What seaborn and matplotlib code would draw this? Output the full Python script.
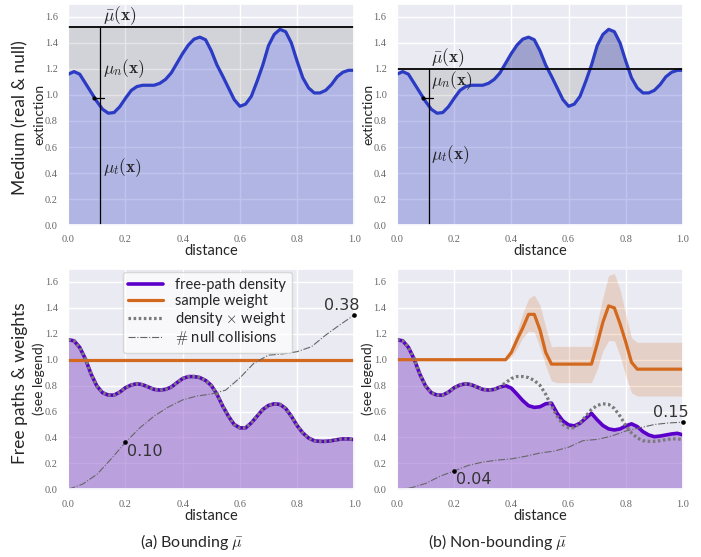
import numpy as np
import matplotlib
matplotlib.use("Agg")
import matplotlib.pyplot as plt
import seaborn as sns
from matplotlib.lines import Line2D

sns.set_theme(style="darkgrid")
plt.rcParams["font.family"] = ["Lato", "DejaVu Sans"]
plt.rcParams["mathtext.fontset"] = "cm"

# distance grid (0.02 steps) for the medium / density curves
dist = np.round(np.arange(51) * 0.02, 2)

# extinction mu_t(x), same medium in both columns
mu_t = [1.16, 1.18, 1.16, 1.09, 1.02, 0.95, 0.89, 0.86, 0.865, 0.91,
        0.975, 1.035, 1.065, 1.075, 1.075, 1.075, 1.09, 1.12, 1.17, 1.245,
        1.32, 1.385, 1.43, 1.445, 1.425, 1.34, 1.23, 1.145, 1.055, 0.965,
        0.913, 0.93, 0.99, 1.105, 1.23, 1.38, 1.466, 1.505, 1.487, 1.40,
        1.26, 1.132, 1.055, 1.016, 1.016, 1.036, 1.08, 1.14, 1.175, 1.19,
        1.19]
mu_bar_bound = 1.52
mu_bar_nonbound = 1.2
probe_x = 0.112
probe_tick = (0.091, 0.126, 0.977)

# true free-path density (= density x weight in both cases)
dens_true = [1.154, 1.146, 1.095, 1.005, 0.888, 0.797, 0.745, 0.727, 0.727, 0.75,
             0.784, 0.805, 0.815, 0.807, 0.789, 0.771, 0.766, 0.771, 0.789, 0.823,
             0.855, 0.87, 0.87, 0.862, 0.84, 0.802, 0.733, 0.642, 0.564, 0.50,
             0.474, 0.474, 0.513, 0.564, 0.616, 0.647, 0.66, 0.655, 0.624, 0.564,
             0.492, 0.435, 0.396, 0.375, 0.37, 0.37, 0.375, 0.383, 0.389, 0.389,
             0.383]

# free-path density with the non-bounding majorant
dens_nb = [1.154, 1.146, 1.095, 1.005, 0.888, 0.797, 0.745, 0.727, 0.727, 0.75,
           0.784, 0.805, 0.815, 0.807, 0.789, 0.771, 0.766, 0.771, 0.789, 0.80,
           0.78, 0.733, 0.684, 0.645, 0.632, 0.637, 0.66, 0.665, 0.586, 0.528,
           0.497, 0.489, 0.51, 0.549, 0.586, 0.536, 0.492, 0.466, 0.458, 0.466,
           0.489, 0.505, 0.484, 0.445, 0.419, 0.406, 0.411, 0.419, 0.427, 0.432,
           0.42]

# sample weight (non-bounding) and its spread
weight_nb = [1.0] * 20 + [1.057, 1.156, 1.246, 1.35, 1.35, 1.23, 1.056, 0.966,
                          0.966, 0.966, 0.966, 0.966, 0.966, 0.966, 0.966, 1.122,
                          1.29, 1.415, 1.40, 1.277, 1.135, 0.98, 0.927, 0.927,
                          0.927, 0.927, 0.927, 0.927, 0.927, 0.927, 0.927]
weight_hi = [1.0] * 20 + [1.08, 1.22, 1.36, 1.47, 1.50, 1.42, 1.25, 1.10,
                          1.103, 1.103, 1.103, 1.103, 1.103, 1.103, 1.103, 1.29,
                          1.48, 1.65, 1.665, 1.54, 1.35, 1.17, 1.134, 1.134,
                          1.134, 1.134, 1.134, 1.134, 1.134, 1.134, 1.134]
weight_lo = [1.0] * 20 + [1.02, 1.09, 1.17, 1.22, 1.215, 1.095, 0.953, 0.836,
                          0.823, 0.823, 0.823, 0.823, 0.823, 0.823, 0.823, 0.927,
                          1.07, 1.147, 1.147, 1.03, 0.875, 0.745, 0.72, 0.72,
                          0.72, 0.72, 0.72, 0.72, 0.72, 0.72, 0.72]

# number of null collisions (scaled), coarser grid
dist_c = np.round(np.arange(21) * 0.05, 2)
null_bound = [0.0, 0.04, 0.115, 0.235, 0.362, 0.474, 0.565, 0.635, 0.69, 0.72,
              0.735, 0.765, 0.86, 0.975, 1.035, 1.045, 1.062, 1.10, 1.19, 1.27,
              1.345]
null_nonbound = [0.0, 0.012, 0.045, 0.10, 0.142, 0.185, 0.21, 0.225, 0.235, 0.255,
                 0.28, 0.295, 0.325, 0.375, 0.385, 0.41, 0.45, 0.475, 0.50, 0.512,
                 0.518]
null_marks_bound = {0.2: "0.10", 1.0: "0.38"}
null_marks_nonbound = {0.2: "0.04", 1.0: "0.15"}

ticks = [0.0, 0.2, 0.4, 0.6, 0.8, 1.0]
yticks = [0.0, 0.2, 0.4, 0.6, 0.8, 1.0, 1.2, 1.4, 1.6]

BLUE = "#2b3bc4"
PURPLE = "#5a00c8"
PURPLE_FILL = "#9d6fd1"
ORANGE = "#d2691e"
DOTS = "#7a7a7a"
TICKFONT = dict(fontfamily="Liberation Serif", fontsize=7.5, color="#666666")

fig = plt.figure(figsize=(7.01, 5.57), dpi=100)
W, H = 701, 557


def px_axes(x0, y0, x1, y1):
    return fig.add_axes([x0 / W, 1 - y1 / H, (x1 - x0) / W, (y1 - y0) / H])


ax_tl = px_axes(68.3, 4, 354.3, 225)
ax_tr = px_axes(397, 4, 683, 225)
ax_bl = px_axes(68.3, 269, 354.3, 489.3)
ax_br = px_axes(397, 269, 683, 489.3)


def style(ax, ylabel):
    ax.set_xlim(0, 1)
    ax.set_ylim(0, 1.7)
    ax.set_xticks(ticks, [f"{t:.1f}" for t in ticks], **TICKFONT)
    ax.set_yticks(yticks, [f"{t:.1f}" for t in yticks], **TICKFONT)
    ax.tick_params(pad=1.5)
    ax.set_xlabel("distance", fontsize=10.5, labelpad=0)
    ax.set_ylabel(ylabel, fontsize=10)
    ax.yaxis.set_label_coords(-0.08, 0.5)


def medium(ax, mu_bar, lab_y):
    ax.fill_between(dist, 0, mu_t, color=BLUE, alpha=0.3, lw=0)
    ax.fill_between(dist, mu_t, mu_bar, color="black", alpha=0.1, lw=0)
    sns.lineplot(x=dist, y=mu_t, ax=ax, color=BLUE, lw=2.3)
    ax.axhline(mu_bar, color="black", lw=1.3)
    ax.vlines(probe_x, 0, mu_bar, color="black", lw=0.9)
    ax.plot(probe_tick[:2], [probe_tick[2]] * 2, color="black", lw=0.9)
    ax.plot(probe_tick[0], probe_tick[2], "o", color="black", ms=2)
    for s, yy in zip([r"$\bar{\mu}(\mathbf{x})$", r"$\mu_n(\mathbf{x})$",
                      r"$\mu_t(\mathbf{x})$"], lab_y):
        ax.text(0.12, yy, s, fontsize=12.5, va="center", ha="left")
    style(ax, "extinction")


medium(ax_tl, mu_bar_bound, [1.61, 1.20, 0.44])
medium(ax_tr, mu_bar_nonbound, [1.29, 1.11, 0.54])


def paths(ax, dens, weight, null, marks, band=None, label_pos=None):
    ax.fill_between(dist, 0, dens, color=PURPLE_FILL, alpha=0.6, lw=0)
    if band is not None:
        ax.fill_between(dist, band[0], band[1], color=ORANGE, alpha=0.2, lw=0)
    sns.lineplot(x=dist, y=dens, ax=ax, color=PURPLE, lw=2.6)
    sns.lineplot(x=dist, y=weight, ax=ax, color=ORANGE, lw=2.3)
    sns.lineplot(x=dist, y=dens_true, ax=ax, color=DOTS, lw=2.3,
                 linestyle=(0, (0.8, 0.8)))
    sns.lineplot(x=dist_c, y=null, ax=ax, color="#666666", lw=0.8,
                 linestyle="-.")
    for (xm, txt), (tx, ty) in zip(marks.items(), label_pos):
        ym = null[list(dist_c).index(xm)]
        ax.plot(xm, ym, "o", color="black", ms=2.3, clip_on=False, zorder=5)
        ax.text(tx, ty, txt, fontsize=11.5, color="#333333",
                ha="left", va="center", family="DejaVu Sans")
    style(ax, "(see legend)")


paths(ax_bl, dens_true, [1.0] * len(dist), null_bound, null_marks_bound,
      label_pos=[(0.205, 0.29), (0.895, 1.42)])
paths(ax_br, dens_nb, weight_nb, null_nonbound, null_marks_nonbound,
      band=(weight_lo, weight_hi), label_pos=[(0.205, 0.075), (0.895, 0.59)])

handles = [
    Line2D([], [], color=PURPLE, lw=2.6),
    Line2D([], [], color=ORANGE, lw=2.3),
    Line2D([], [], color=DOTS, lw=2.3, linestyle=(0, (0.8, 0.8))),
    Line2D([], [], color="#666666", lw=0.8, linestyle="-."),
]
labels = ["free-path density", "sample weight", r"density $\times$ weight",
          r"$\#$ null collisions"]
leg = ax_bl.legend(handles, labels, loc="upper left",
                   bbox_to_anchor=(0.19, 0.985), borderaxespad=0,
                   fontsize=10.5, handlelength=2.4, labelspacing=0.12,
                   frameon=True, framealpha=0.7, edgecolor="#cccccc",
                   facecolor="white", borderpad=0.4)

fig.text(20 / W, 1 - 118 / H, "Medium (real & null)", rotation=90,
         fontsize=12.5, ha="center", va="center")
fig.text(20 / W, 1 - 383 / H, "Free paths & weights", rotation=90,
         fontsize=12.5, ha="center", va="center")
fig.text(192 / W, 1 - 542 / H, r"(a) Bounding $\bar{\mu}$", fontsize=11.5,
         ha="center", va="center")
fig.text(497 / W, 1 - 542 / H, r"(b) Non-bounding $\bar{\mu}$", fontsize=11.5,
         ha="center", va="center")

fig.savefig("out.png", dpi=100)
